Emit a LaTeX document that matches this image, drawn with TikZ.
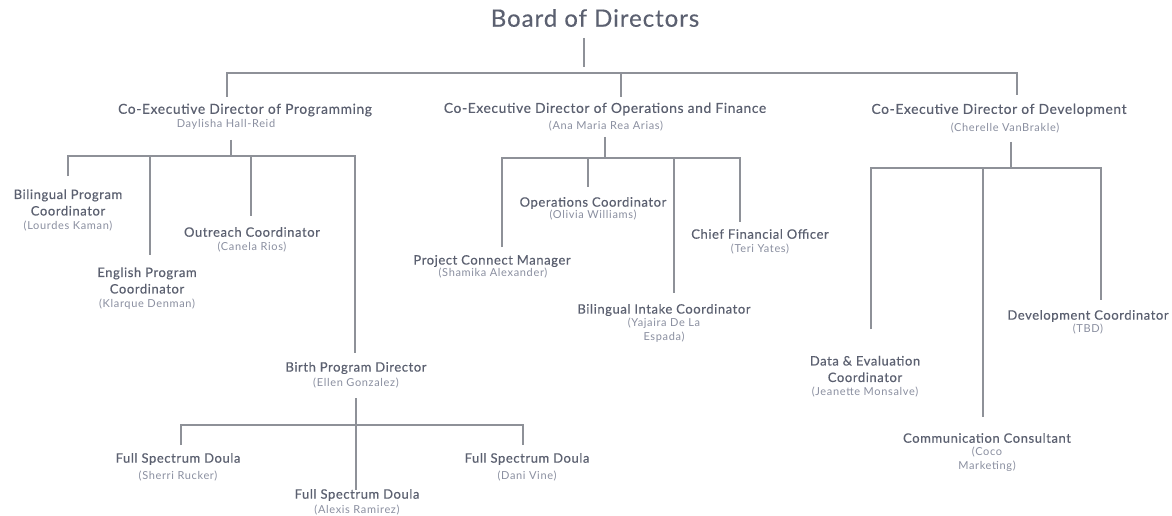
\documentclass[tikz,border=0pt]{standalone}
\usepackage{fontspec}
\setmainfont{Lato}
\newfontfamily\ttlfont[LetterSpace=4.5,FakeBold=0.3]{Lato}
\newfontfamily\bigfont[LetterSpace=4,FakeBold=0.2]{Lato}
\newfontfamily\nmfont[LetterSpace=6]{Lato}
\definecolor{ttlc}{HTML}{5B6070}
\definecolor{nmc}{HTML}{8A8FA0}
\definecolor{lnc}{HTML}{8E9198}
\begin{document}
\begin{tikzpicture}[x=1pt,y=-1pt,
  conn/.style={draw=lnc,line width=1.3pt},
  ttl/.style={font=\ttlfont\fontsize{13}{16.5}\selectfont,text=ttlc,inner sep=0pt,align=center},
  cttl/.style={font=\ttlfont\fontsize{13.8}{16.5}\selectfont,text=ttlc,inner sep=0pt,align=center},
  big/.style={font=\bigfont\fontsize{24}{26}\selectfont,text=ttlc,inner sep=0pt},
  nm/.style={font=\nmfont\fontsize{11}{14}\selectfont,text=nmc,inner sep=0pt,align=center}]
\useasboundingbox (0,0) rectangle (1172,516);
\fill[white] (0,0) rectangle (1172,516);

% texts
\node[big] (board) at (595,18) {Board of Directors};
\node[cttl] (progT) at (245,110) {Co-Executive Director of Programming};
\node[nm] (progN) at (226,124) {Daylisha Hall-Reid};
\node[cttl] (opsT) at (605,109) {Co-Executive Director of Operations and Finance};
\node[nm] (opsN) at (606,126) {(Ana Maria Rea Arias)};
\node[cttl] (devT) at (999,110) {Co-Executive Director of Development};
\node[nm] (devN) at (1005,128) {(Cherelle VanBrakle)};

\node[ttl] (bpcT) at (68,202.5) {Bilingual Program\\Coordinator};
\node[nm] (bpcN) at (68,226) {(Lourdes Kaman)};
\node[ttl] (epcT) at (147,280.5) {English Program\\Coordinator};
\node[nm] (epcN) at (147,304) {(Klarque Denman)};
\node[ttl] (outT) at (252,232) {Outreach Coordinator};
\node[nm] (outN) at (252,247) {(Canela Rios)};
\node[ttl] (birthT) at (356,368) {Birth Program Director};
\node[nm] (birthN) at (356,383) {(Ellen Gonzalez)};
\node[ttl] (d1T) at (178,459) {Full Spectrum Doula};
\node[nm] (d1N) at (178,476) {(Sherri Rucker)};
\node[ttl] (d2T) at (357,495) {Full Spectrum Doula};
\node[nm] (d2N) at (357,510) {(Alexis Ramirez)};
\node[ttl] (d3T) at (527,459) {Full Spectrum Doula};
\node[nm] (d3N) at (527,476) {(Dani Vine)};

\node[ttl] (opcT) at (593,203) {Operations Coordinator};
\node[nm] (opcN) at (593,215) {(Olivia Williams)};
\node[ttl] (cfoT) at (760,234) {Chief Financial Officer};
\node[nm] (cfoN) at (760,249) {(Teri Yates)};
\node[ttl] (pcmT) at (492,261) {Project Connect Manager};
\node[nm] (pcmN) at (493,273) {(Shamika Alexander)};
\node[ttl] (bicT) at (664,310) {Bilingual Intake Coordinator};
\node[nm] (bicN) at (664,330) {(Yajaira De La\\Espada)};

\node[ttl] (dcT) at (1088,316) {Development Coordinator};
\node[nm] (dcN) at (1088,329) {(TBD)};
\node[ttl] (deT) at (865,369) {Data \& Evaluation\\Coordinator};
\node[nm] (deN) at (865,392) {(Jeanette Monsalve)};
\node[ttl] (ccT) at (987,438) {Communication Consultant};
\node[nm] (ccN) at (987,459) {(Coco\\Marketing)};

% junction coordinates
\coordinate (b0) at (584,38);
\coordinate (b1) at (584,67);
\coordinate (bL) at (227,73);
\coordinate (bR) at (1017,73);
\coordinate (bM) at (621,73);
\coordinate (eP) at (227,97);
\coordinate (eO) at (621,97);
\coordinate (eD) at (1017,95);

\coordinate (p0) at (231,140);
\coordinate (p1) at (231,156);
\coordinate (pL) at (68,156);
\coordinate (pR) at (355,156);
\coordinate (pa) at (150,156);
\coordinate (pb) at (251,156);
\coordinate (ebpc) at (68,176);
\coordinate (eepc) at (150,255);
\coordinate (eout) at (251,216);
\coordinate (ebir) at (355,353);

\coordinate (q0) at (356,398);
\coordinate (q1) at (356,425);
\coordinate (qL) at (181,425);
\coordinate (qR) at (523,425);
\coordinate (ed1) at (181,445);
\coordinate (ed2) at (356,490);
\coordinate (ed3) at (523,445);

\coordinate (o0) at (605,137);
\coordinate (o1) at (605,158);
\coordinate (oL) at (502,158);
\coordinate (oR) at (740,158);
\coordinate (oa) at (588,158);
\coordinate (ob) at (674,158);
\coordinate (epcm) at (502,247);
\coordinate (eopc) at (588,187);
\coordinate (ebic) at (674,293);
\coordinate (ecfo) at (740,222);

\coordinate (r0) at (1011,142);
\coordinate (r1) at (1011,168);
\coordinate (rL) at (871,168);
\coordinate (rR) at (1101,168);
\coordinate (ra) at (983,168);
\coordinate (ede) at (871,329);
\coordinate (ecc) at (983,417);
\coordinate (edc) at (1101,300);

% connectors
\draw[conn] (b0) -- (b1);
\draw[conn] (eP) -- (bL) -- (bR) -- (eD);
\draw[conn] (bM) -- (eO);

\draw[conn] (p0) -- (p1);
\draw[conn] (ebpc) -- (pL) -- (pR) -- (ebir);
\draw[conn] (pa) -- (eepc);
\draw[conn] (pb) -- (eout);

\draw[conn] (q0) -- (ed2);
\draw[conn] (ed1) -- (qL) -- (qR) -- (ed3);

\draw[conn] (o0) -- (o1);
\draw[conn] (epcm) -- (oL) -- (oR) -- (ecfo);
\draw[conn] (oa) -- (eopc);
\draw[conn] (ob) -- (ebic);

\draw[conn] (r0) -- (r1);
\draw[conn] (ede) -- (rL) -- (rR) -- (edc);
\draw[conn] (ra) -- (ecc);
\end{tikzpicture}
\end{document}
